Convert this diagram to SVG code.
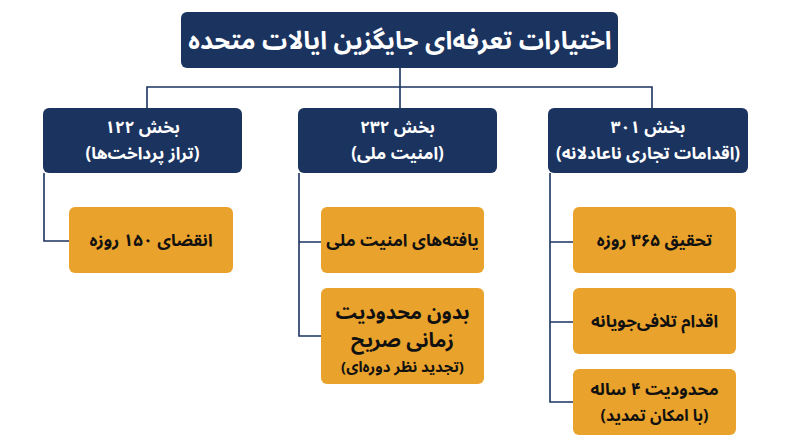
<svg xmlns="http://www.w3.org/2000/svg" width="800" height="447" viewBox="0 0 800 447">
<style>
.navy{fill:#1b335f;}
.orange{fill:#e9a22b;}
.t{font-family:"Noto Sans Arabic","DejaVu Sans",sans-serif;font-weight:bold;text-anchor:middle;direction:rtl;}
.w{fill:#ffffff;}
.k{fill:#111111;}
.conn{fill:none;stroke:#1b335f;stroke-width:1.6;}
</style>
<rect width="800" height="447" fill="#ffffff"/>
<g id="connectors">
<path class="conn" d="M400 68 V87 M147 108 V87 H652 V108 M400 87 V108"/>
<path class="conn" d="M44 173 V241 H70"/>
<path class="conn" d="M299 173 V336 H321 M299 242 H321"/>
<path class="conn" d="M550 173 V402 H573 M550 242 H573 M550 322 H573"/>
</g>
<g id="title">
<rect class="navy" x="181" y="12" width="437" height="56" rx="6"/>
<text class="t w" x="400" y="49" font-size="25">اختیارات تعرفه‌ای جایگزین ایالات متحده</text>
</g>
<g id="s122">
<rect class="navy" x="43" y="108" width="199" height="65" rx="6"/>
<text class="t w" x="142.5" y="133" font-size="17">بخش ۱۲۲</text>
<text class="t w" x="142.5" y="159" font-size="17">(تراز پرداخت‌ها)</text>
</g>
<g id="s232">
<rect class="navy" x="298" y="108" width="199" height="65" rx="6"/>
<text class="t w" x="397.5" y="133" font-size="17">بخش ۲۳۲</text>
<text class="t w" x="397.5" y="159" font-size="17">(امنیت ملی)</text>
</g>
<g id="s301">
<rect class="navy" x="548" y="108" width="200" height="65" rx="6"/>
<text class="t w" x="648" y="133" font-size="17">بخش ۳۰۱</text>
<text class="t w" x="648" y="159" font-size="17">(اقدامات تجاری ناعادلانه)</text>
</g>
<g id="n150">
<rect class="orange" x="69" y="207" width="164" height="66" rx="6"/>
<text class="t k" x="151" y="246" font-size="17">انقضای ۱۵۰ روزه</text>
</g>
<g id="nsec">
<rect class="orange" x="321" y="207" width="163" height="66" rx="6"/>
<text class="t k" x="402.5" y="246" font-size="17">یافته‌های امنیت ملی</text>
</g>
<g id="nnolimit">
<rect class="orange" x="321" y="288" width="163" height="96" rx="6"/>
<text class="t k" x="402.5" y="319" font-size="20">بدون محدودیت</text>
<text class="t k" x="402.5" y="347" font-size="20">زمانی صریح</text>
<text class="t k" x="402.5" y="372" font-size="15">(تجدید نظر دوره‌ای)</text>
</g>
<g id="n365">
<rect class="orange" x="573" y="207" width="163" height="66" rx="6"/>
<text class="t k" x="654.5" y="246" font-size="17">تحقیق ۳۶۵ روزه</text>
</g>
<g id="nretal">
<rect class="orange" x="573" y="288" width="163" height="66" rx="6"/>
<text class="t k" x="654.5" y="327" font-size="17">اقدام تلافی‌جویانه</text>
</g>
<g id="n4yr">
<rect class="orange" x="573" y="369" width="163" height="66" rx="6"/>
<text class="t k" x="654.5" y="395" font-size="17">محدودیت ۴ ساله</text>
<text class="t k" x="654.5" y="421" font-size="16">(با امکان تمدید)</text>
</g>
</svg>
